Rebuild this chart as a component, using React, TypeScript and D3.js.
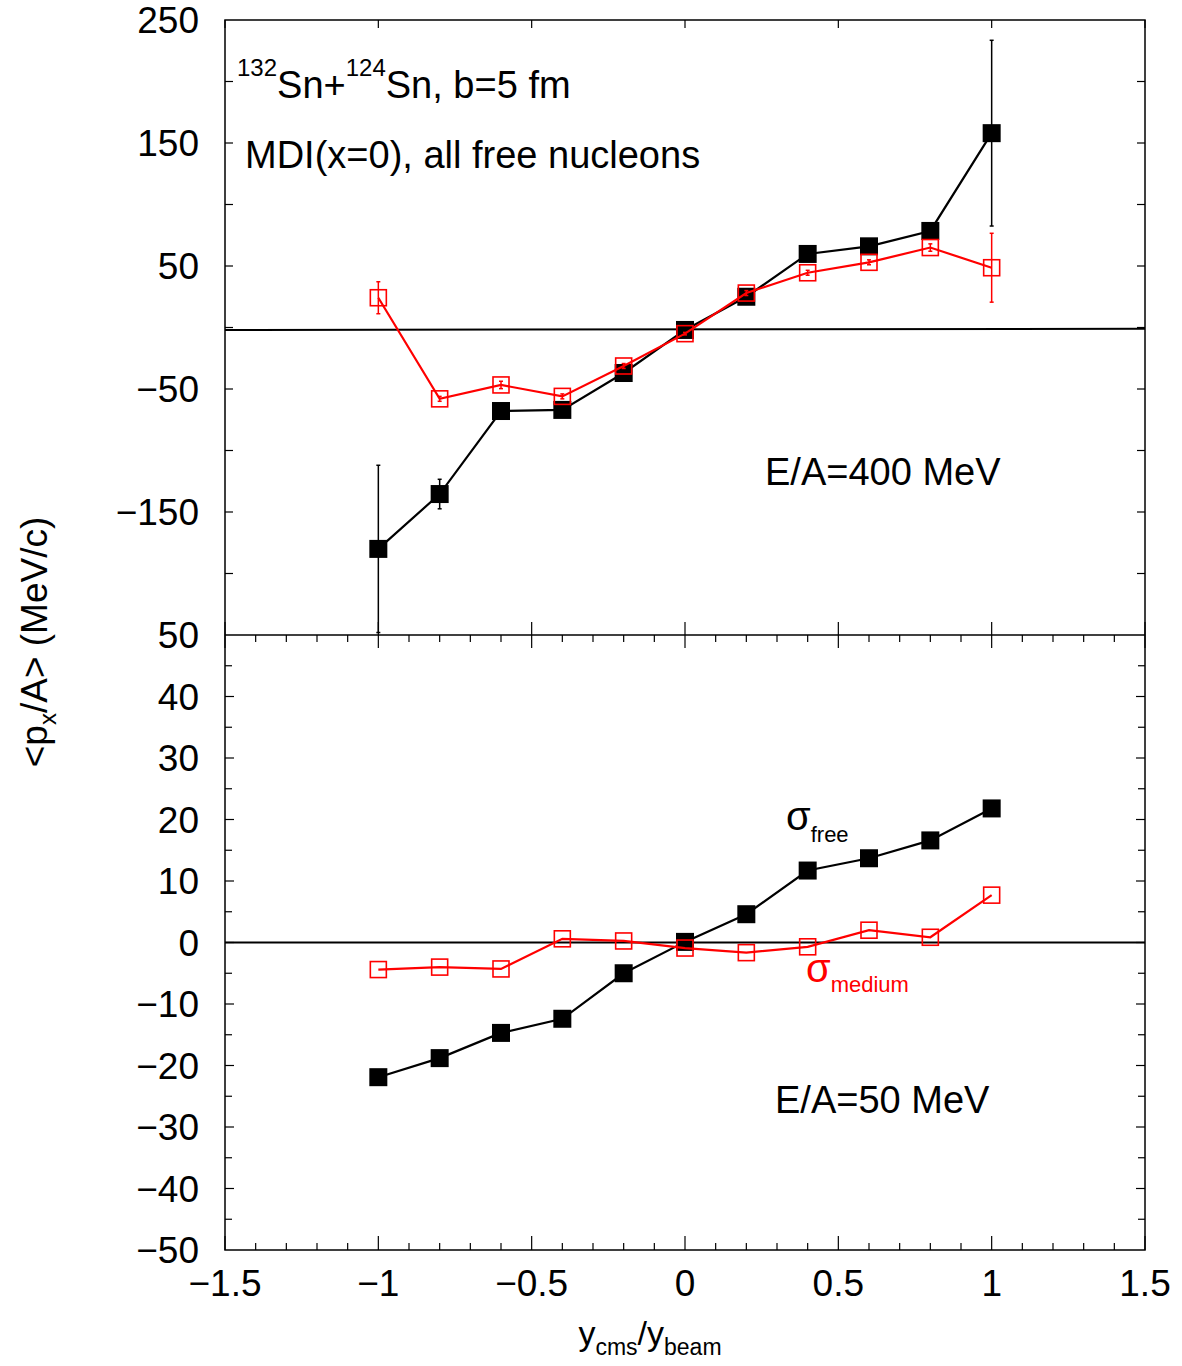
import React from "react";
import * as d3 from "d3";

const xVals = [-1, -0.8, -0.6, -0.4, -0.2, 0, 0.2, 0.4, 0.6, 0.8, 1];

// Upper panel: E/A = 400 MeV
const topFree = [-180, -135.4, -67.9, -67, -37, -2, 25, 59.8, 66, 78.5, 158];
const topFreeErr = [68, 12, 2, 2, 2, 1, 2, 2, 2, 2, 75.5];
const topMedium = [24.2, -58, -46.7, -56, -31.3, -5, 28, 44.5, 53, 65, 48.6];
const topMediumErr = [13, 2, 3, 2, 2, 1, 2, 2, 2, 3, 28];

// Lower panel: E/A = 50 MeV
const botFree = [-21.9, -18.8, -14.7, -12.4, -5.0, 0.1, 4.6, 11.7, 13.7, 16.6, 21.8];
const botMedium = [-4.4, -4.0, -4.3, 0.6, 0.25, -0.9, -1.65, -0.7, 2.0, 0.85, 7.7];

const xTickLabels = [-1.5, -1, -0.5, 0, 0.5, 1, 1.5];
const topTickLabels = [250, 150, 50, -50, -150];
const botTickLabels = [50, 40, 30, 20, 10, 0, -10, -20, -30, -40, -50];

const W = 1182;
const H = 1366;
const L = 225, R = 1145, T = 20, MID = 635, B = 1250;
const FONT = "'Liberation Sans', Arial, Helvetica, sans-serif";

const fmt = (v: number) => (v < 0 ? "\u2212" + Math.abs(v) : String(v));

export default function App() {
  const x = d3.scaleLinear().domain([-1.5, 1.5]).range([L, R]);
  const yTop = d3.scaleLinear().domain([-250, 250]).range([MID, T]);
  const yBot = d3.scaleLinear().domain([-50, 50]).range([B, MID]);

  const lineTop = d3.line<number>().x((_, i) => x(xVals[i])).y((d) => yTop(d));
  const lineBot = d3.line<number>().x((_, i) => x(xVals[i])).y((d) => yBot(d));

  const minorX = d3.range(-15, 16).map((k) => k / 10);
  const majorX = d3.range(-3, 4).map((k) => k / 2);
  const topYTicks = d3.range(-200, 250, 50);
  const botYTicks = d3.range(-45, 50, 5);

  const filled = (cx: number, cy: number, key: string) => (
    <rect key={key} x={cx - 9} y={cy - 9} width={18} height={18} fill="#000" />
  );
  const open = (cx: number, cy: number, key: string) => (
    <rect key={key} x={cx - 8} y={cy - 8} width={16} height={16} fill="none" stroke="#ff0000" strokeWidth={1.6} />
  );
  const errBar = (cx: number, y1: number, y2: number, color: string, key: string) => (
    <g key={key} stroke={color} strokeWidth={1.5}>
      <line x1={cx} x2={cx} y1={y1} y2={y2} />
      <line x1={cx - 2} x2={cx + 2} y1={y1} y2={y1} />
      <line x1={cx - 2} x2={cx + 2} y1={y2} y2={y2} />
    </g>
  );

  return (
    <svg width={W} height={H} style={{ display: "block", position: "absolute", left: 0, top: 0 }} fontFamily={FONT}>
      <rect width={W} height={H} fill="#fff" />
      <defs>
        <clipPath id="clipTop">
          <rect x={L} y={T} width={R - L} height={MID - T} />
        </clipPath>
      </defs>

      {/* frames */}
      <g stroke="#000" strokeWidth={1.5} fill="none">
        <rect x={L} y={T} width={R - L} height={B - T} />
        <line x1={L} x2={R} y1={MID} y2={MID} />
      </g>

      <g stroke="#000" strokeWidth={1.2}>
        {majorX.map((v) => (
          <line key={"tt" + v} x1={x(v)} x2={x(v)} y1={T} y2={T + 8} />
        ))}
        {minorX.map((v) => {
          const isMajor = Math.abs(v * 2 - Math.round(v * 2)) < 1e-6;
          return isMajor ? (
            <line key={"mt" + v} x1={x(v)} x2={x(v)} y1={MID - 13} y2={MID + 13} />
          ) : (
            <line key={"mt" + v} x1={x(v)} x2={x(v)} y1={MID} y2={MID + 7} />
          );
        })}
        {minorX.map((v) => {
          const isMajor = Math.abs(v * 2 - Math.round(v * 2)) < 1e-6;
          return <line key={"bt" + v} x1={x(v)} x2={x(v)} y1={B} y2={B - (isMajor ? 14 : 7)} />;
        })}
        {topYTicks.map((v) => (
          <g key={"ty" + v}>
            <line x1={L} x2={L + 8} y1={yTop(v)} y2={yTop(v)} />
            <line x1={R} x2={R - 8} y1={yTop(v)} y2={yTop(v)} />
          </g>
        ))}
        {botYTicks.map((v) => (
          <g key={"by" + v}>
            <line x1={L} x2={L + (v % 10 === 0 ? 9 : 7)} y1={yBot(v)} y2={yBot(v)} />
            <line x1={R} x2={R - (v % 10 === 0 ? 9 : 7)} y1={yBot(v)} y2={yBot(v)} />
          </g>
        ))}
      </g>

      {/* tick labels */}
      <g fontSize={37} fill="#000">
        {topTickLabels.map((v) => (
          <text key={"tl" + v} x={199} y={yTop(v)} dy="0.36em" textAnchor="end">{fmt(v)}</text>
        ))}
        {botTickLabels.map((v) => (
          <text key={"bl" + v} x={199} y={yBot(v)} dy="0.36em" textAnchor="end">{fmt(v)}</text>
        ))}
        {xTickLabels.map((v) => (
          <text key={"xl" + v} x={x(v)} y={1296} textAnchor="middle">{fmt(v)}</text>
        ))}
      </g>

      {/* zero lines */}
      <line x1={x(-1.5)} x2={x(1.5)} y1={yTop(-2)} y2={yTop(-1)} stroke="#000" strokeWidth={2} />
      <line x1={x(-1.5)} x2={x(1.5)} y1={yBot(0)} y2={yBot(0)} stroke="#000" strokeWidth={2} />

      {/* top panel data */}
      <g clipPath="url(#clipTop)">
        {topFree.map((v, i) =>
          errBar(x(xVals[i]), yTop(v - topFreeErr[i]), yTop(v + topFreeErr[i]), "#000", "tfe" + i)
        )}
        <path d={lineTop(topFree) || ""} fill="none" stroke="#000" strokeWidth={2.2} />
        {topFree.map((v, i) => filled(x(xVals[i]), yTop(v), "tf" + i))}
        {topMedium.map((v, i) =>
          errBar(x(xVals[i]), yTop(v - topMediumErr[i]), yTop(v + topMediumErr[i]), "#ff0000", "tme" + i)
        )}
        <path d={lineTop(topMedium) || ""} fill="none" stroke="#ff0000" strokeWidth={2.2} />
        {topMedium.map((v, i) => open(x(xVals[i]), yTop(v), "tm" + i))}
      </g>

      {/* bottom panel data */}
      <path d={lineBot(botFree) || ""} fill="none" stroke="#000" strokeWidth={2.2} />
      {botFree.map((v, i) => filled(x(xVals[i]), yBot(v), "bf" + i))}
      <path d={lineBot(botMedium) || ""} fill="none" stroke="#ff0000" strokeWidth={2.2} />
      {botMedium.map((v, i) => open(x(xVals[i]), yBot(v), "bm" + i))}

      {/* annotations */}
      <text x={237} y={98} fill="#000">
        <tspan fontSize={24} dy={-22}>132</tspan>
        <tspan fontSize={38} dy={22}>Sn+</tspan>
        <tspan fontSize={24} dy={-22}>124</tspan>
        <tspan fontSize={38} dy={22}>Sn, b=5 fm</tspan>
      </text>
      <text x={245} y={168} fontSize={38} fill="#000">MDI(x=0), all free nucleons</text>
      <text x={765} y={485} fontSize={38} fill="#000">E/A=400 MeV</text>
      <text x={775} y={1113} fontSize={38} fill="#000">E/A=50 MeV</text>

      <text x={786} y={830} fill="#000">
        <tspan fontSize={40}>σ</tspan>
        <tspan fontSize={22} dy={12}>free</tspan>
      </text>
      <text x={806} y={982} fill="#ff0000">
        <tspan fontSize={40}>σ</tspan>
        <tspan fontSize={22} dy={10}>medium</tspan>
      </text>

      {/* axis titles */}
      <text transform="translate(47,642) rotate(-90)" textAnchor="middle" fontSize={37} fill="#000">
        <tspan>{"<p"}</tspan>
        <tspan fontSize={24} dy={9}>x</tspan>
        <tspan dy={-9}>{"/A> (MeV/c)"}</tspan>
      </text>
      <text x={650} y={1345} textAnchor="middle" fontSize={34} fill="#000">
        <tspan>y</tspan>
        <tspan fontSize={23} dy={10}>cms</tspan>
        <tspan dy={-10}>/y</tspan>
        <tspan fontSize={23} dy={10}>beam</tspan>
      </text>
    </svg>
  );
}
